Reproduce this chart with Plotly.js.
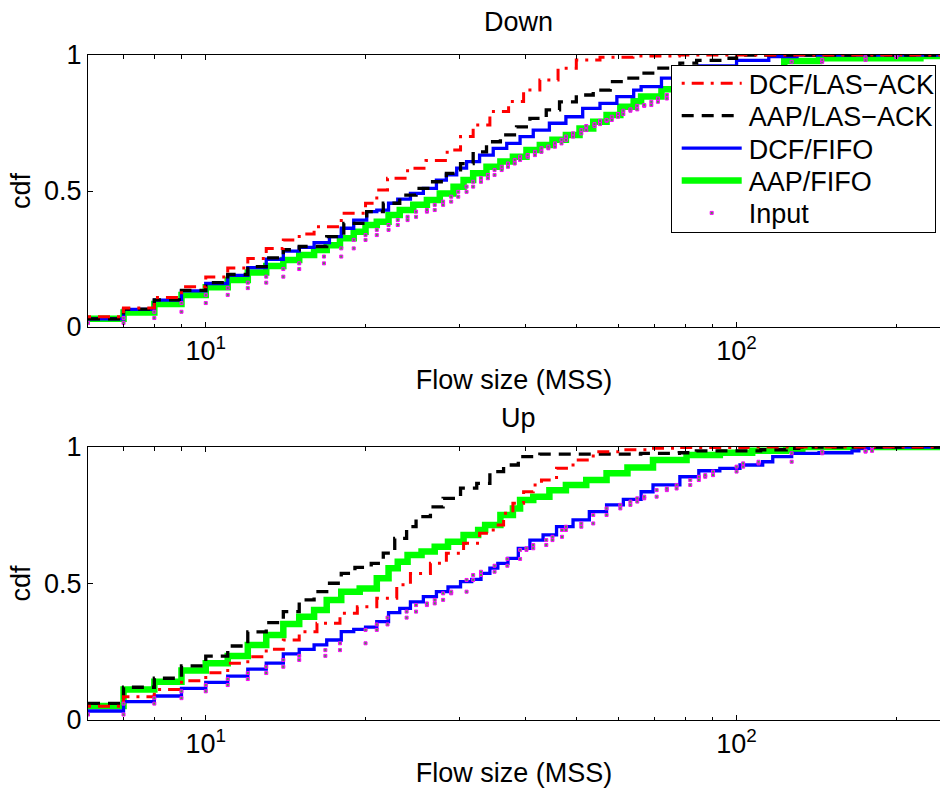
<!DOCTYPE html>
<html><head><meta charset="utf-8">
<script src="https://cdn.plot.ly/plotly-3.0.1.min.js"></script>
<style>html,body{margin:0;padding:0;background:#fff}</style>
</head><body><div id="chart" style="width:940px;height:796px"></div>
<script>
// ---------- Data ----------
var seriesNames = ['DCF/LAS\u2212ACK', 'AAP/LAS\u2212ACK', 'DCF/FIFO', 'AAP/FIFO', 'Input'];
var panelTitles = ['Down', 'Up'];
var xTickVals = [10, 100];
var xTickText = ['10<sup>1</sup>', '10<sup>2</sup>'];
var xMinorVals = [6, 7, 8, 9, 20, 30, 40, 50, 60, 70, 80, 90, 200];
var yTickVals = [0, 0.5, 1];
var yTickText = ['0', '0.5', '1'];

// Down panel
var downDcfLasX = [6,7,8,9,10,11,12,13,14,15,16,18,20,21,22,24,26,28.5,30.2,31.9,34.3,37.2,39.7,42.6,46.1,49.9,55.3,63.8,78,250];
var downDcfLasY = [0.038,0.07,0.108,0.148,0.184,0.217,0.252,0.289,0.32,0.342,0.369,0.418,0.455,0.504,0.547,0.584,0.612,0.651,0.70,0.743,0.792,0.829,0.871,0.908,0.951,0.982,0.992,0.996,1.0,1.0];
var downAapLasX = [6,7,8,9,10,11,12,13,14,15,16.9,18.2,20.1,21.6,23.2,24.9,26.5,28.4,30.2,31.9,33.8,35.9,38.5,40.8,43.8,46.4,49.9,53.7,57.8,61.3,66,70.7,78.2,84.1,93,100,250];
var downAapLasY = [0.03,0.066,0.10,0.135,0.163,0.193,0.222,0.254,0.284,0.296,0.332,0.381,0.424,0.455,0.485,0.51,0.534,0.565,0.601,0.644,0.681,0.706,0.736,0.767,0.798,0.828,0.853,0.871,0.902,0.915,0.933,0.952,0.97,0.98,0.988,1.0,1.0];
var downDcfFifoX = [6,7,8,9,10,11,12,13,14,15,16,17.1,18,19,20.1,21,22.1,23,24.3,25.7,27.2,28.4,29.7,31,32.8,34.8,36.9,39.1,41.4,44.4,47.7,51.3,55.3,59.5,64,66.1,72.2,76.1,85,100,115,130,250];
var downDcfFifoY = [0.03,0.065,0.099,0.133,0.16,0.19,0.218,0.249,0.279,0.293,0.31,0.332,0.363,0.393,0.424,0.43,0.455,0.47,0.491,0.51,0.54,0.559,0.584,0.608,0.632,0.657,0.675,0.70,0.724,0.749,0.773,0.804,0.822,0.847,0.871,0.884,0.915,0.939,0.96,0.98,0.994,1.0,1.0];
var downAapFifoX = [6,7,8,9,10,11,12,13,14,15,16,16.9,17.9,19,20,21,22.1,23.2,24.6,26.1,27.6,29.3,30.6,31.9,33.8,35.9,37.9,40.2,42.6,45,47.7,50.6,53.7,56.9,60.4,64,66.1,72.2,85,100,123,143,222,250];
var downAapFifoY = [0.03,0.053,0.085,0.118,0.146,0.173,0.20,0.224,0.246,0.265,0.283,0.301,0.326,0.35,0.375,0.387,0.412,0.43,0.449,0.467,0.491,0.516,0.54,0.565,0.589,0.608,0.626,0.651,0.669,0.688,0.706,0.73,0.755,0.779,0.81,0.83,0.847,0.874,0.92,0.95,0.978,0.988,0.996,1.0];
var downInputX = [6,7,8,9,10,11,12,13,14,15,16.7,18,19,20,21,22.1,23,24,24.9,26.1,27,28,29,29.9,31,31.9,33,34,35,36.1,37.1,38.2,39.1,40.4,41.7,42.9,44.2,45.5,46.8,47.7,49.2,51,52.1,54,55.3,56.9,58.2,59.8,61.2,63.1,65,67,69.1,71.1,73.9,85,100,127,145,175,200,250];
var downInputY = [0.015,0.033,0.056,0.088,0.118,0.143,0.163,0.185,0.213,0.234,0.259,0.289,0.32,0.338,0.357,0.375,0.393,0.405,0.424,0.43,0.449,0.461,0.479,0.497,0.516,0.534,0.547,0.559,0.577,0.589,0.601,0.614,0.626,0.632,0.644,0.657,0.663,0.675,0.688,0.70,0.712,0.724,0.739,0.746,0.758,0.761,0.773,0.783,0.795,0.80,0.813,0.816,0.828,0.84,0.853,0.90,0.94,0.975,0.982,0.992,1.0,1.0];

// Up panel
var upDcfLasX = [6,7,8,9,10,11,12,13,14,15,16.2,17.9,19.3,21,22.9,24.3,26.5,28.4,30.6,32.8,34.8,36.4,37.9,39.7,41.4,42.9,45.8,49.2,53.7,60.4,68,77,105,250];
var upDcfLasY = [0.05,0.085,0.112,0.144,0.173,0.208,0.232,0.259,0.293,0.323,0.354,0.391,0.415,0.446,0.495,0.537,0.574,0.611,0.647,0.684,0.714,0.757,0.794,0.836,0.861,0.879,0.922,0.952,0.983,0.99,0.995,0.998,1.0,1.0];
var upAapLasX = [6,7,8,9,10,11,12,13,14,15,16,16.9,18,19.1,20.5,21.6,22.7,23.9,24.9,26.5,28,30.2,32.4,34.3,36.4,38.8,42.6,66,78,84,111,124,131,250];
var upAapLasY = [0.061,0.12,0.153,0.198,0.234,0.271,0.323,0.357,0.397,0.44,0.47,0.501,0.537,0.559,0.574,0.611,0.665,0.708,0.745,0.781,0.812,0.849,0.867,0.91,0.934,0.965,0.974,0.977,0.979,0.986,0.99,0.995,1.0,1.0];
var upDcfFifoX = [6,7,8,9,10,11,12,13,14,15,16,16.9,18,19,20,21,22.1,23.2,24.3,25.7,27.2,28.6,30.2,31.7,33,34.3,35.5,37.1,38.8,40.8,43.2,45.8,49.2,52.8,56.9,61.2,66.1,69.6,78.2,84.9,93,101.5,112,117,127,143,165,170,180,250];
var upDcfFifoY = [0.033,0.067,0.088,0.116,0.138,0.161,0.186,0.208,0.242,0.259,0.275,0.293,0.324,0.332,0.34,0.36,0.393,0.409,0.433,0.452,0.47,0.488,0.507,0.515,0.537,0.556,0.574,0.592,0.629,0.659,0.678,0.708,0.733,0.763,0.788,0.808,0.836,0.861,0.891,0.913,0.922,0.934,0.946,0.965,0.977,0.979,0.986,0.995,1.0,1.0];
var upAapFifoX = [6,7,8,9,10,11,12,13,14,15,16,16.9,18,19.5,21,22.1,23,24,25.5,27,28.6,30.6,32.6,33.6,35.9,37.9,39.1,41.4,44.4,47.7,52.1,56.9,62.3,69.6,80.5,93,107,124,133,250];
var upAapFifoY = [0.051,0.112,0.14,0.181,0.208,0.234,0.275,0.311,0.352,0.378,0.403,0.44,0.47,0.482,0.519,0.556,0.58,0.604,0.617,0.635,0.653,0.678,0.696,0.714,0.751,0.775,0.806,0.818,0.842,0.861,0.879,0.904,0.925,0.952,0.971,0.979,0.986,0.991,1.0,1.0];
var upInputX = [6,7,8,9,10,11,12,13,14,15,16.8,17.9,20,21,22,23.9,24.9,26.1,27,28,29,31,31.9,33,35,37,39.1,40.2,41.4,43.8,45,46.9,47.7,51,53.7,56.9,60.4,63.1,65,67,70.7,73.9,77.1,81.8,84.9,87.3,90.3,100,102.9,110,127,145,175,180,250];
var upInputY = [0.02,0.06,0.08,0.105,0.128,0.15,0.172,0.195,0.22,0.235,0.256,0.281,0.33,0.35,0.375,0.397,0.421,0.427,0.44,0.464,0.47,0.513,0.531,0.543,0.565,0.59,0.623,0.629,0.641,0.659,0.671,0.696,0.708,0.72,0.751,0.775,0.788,0.80,0.812,0.818,0.842,0.848,0.861,0.879,0.891,0.897,0.91,0.928,0.94,0.946,0.977,0.983,0.986,1.0,1.0];

// ---------- Styling ----------
var FONT = '"Liberation Sans", Arial, Helvetica, sans-serif';
var FS = 27;
var W = 940, H = 796;
var styles = [
  {color: '#ff0000', width: 3, dash: '3px,7px,12px,7px'},
  {color: '#000000', width: 3.3, dash: '12px,8px'},
  {color: '#0000ff', width: 3.3, dash: 'solid'},
  {color: '#00ff00', width: 6.5, dash: 'solid'}
];

// step-corner points for the marker-only "Input" series
function corners(xs, ys) {
  var cx = [], cy = [];
  for (var i = 0; i < xs.length; i++) {
    if (i > 0) { cx.push(xs[i]); cy.push(ys[i - 1]); }
    cx.push(xs[i]); cy.push(ys[i]);
  }
  return {x: cx, y: cy};
}

function panelTraces(data, xa, ya, showLegend) {
  var tr = [];
  var order = [3, 2, 1, 0];
  order.forEach(function (k) {
    tr.push({
      type: 'scatter', mode: 'lines', name: seriesNames[k],
      x: data[k][0], y: data[k][1], xaxis: xa, yaxis: ya,
      line: {shape: 'hv', color: styles[k].color, width: styles[k].width, dash: styles[k].dash},
      showlegend: showLegend, legendrank: k + 1, hoverinfo: 'skip'
    });
  });
  var c = corners(data[4][0], data[4][1]);
  tr.push({
    type: 'scatter', mode: 'markers', name: seriesNames[4],
    x: c.x, y: c.y, xaxis: xa, yaxis: ya,
    marker: {symbol: 'square', size: 3, color: 'rgb(60,170,60)', line: {color: '#ff00ff', width: 1}},
    showlegend: showLegend, legendrank: 5, hoverinfo: 'skip'
  });
  return tr;
}

var downData = [[downDcfLasX, downDcfLasY], [downAapLasX, downAapLasY], [downDcfFifoX, downDcfFifoY], [downAapFifoX, downAapFifoY], [downInputX, downInputY]];
var upData = [[upDcfLasX, upDcfLasY], [upAapLasX, upAapLasY], [upDcfFifoX, upDcfFifoY], [upAapFifoX, upAapFifoY], [upInputX, upInputY]];

var traces = panelTraces(downData, 'x', 'y', true).concat(panelTraces(upData, 'x2', 'y2', false));

var left = 88;
var xRange = [Math.log10(6), Math.log10(241.7)];
function xAxis(anchor) {
  return {
    type: 'log', domain: [left / W, 1], range: xRange, anchor: anchor,
    tickmode: 'array', tickvals: xTickVals, ticktext: xTickText,
    ticks: 'inside', ticklen: 5, tickwidth: 1, tickcolor: '#000',
    minor: {tickmode: 'array', tickvals: xMinorVals, ticks: 'inside', ticklen: 3.5, tickwidth: 1, tickcolor: '#000', showgrid: false},
    showline: true, linecolor: '#000', linewidth: 1, mirror: 'ticks',
    showgrid: false, zeroline: false,
    tickfont: {family: FONT, size: FS, color: '#000'},
    title: {text: 'Flow size (MSS)', font: {family: FONT, size: FS, color: '#000'}, standoff: 4}
  };
}
function yAxis(anchor, top, bottom) {
  return {
    domain: [1 - bottom / H, 1 - top / H], range: [0, 1], anchor: anchor,
    tickmode: 'array', tickvals: yTickVals, ticktext: yTickText,
    ticks: 'inside', ticklen: 5, tickwidth: 1, tickcolor: '#000',
    showline: true, linecolor: '#000', linewidth: 1,
    showgrid: false, zeroline: false,
    tickfont: {family: FONT, size: FS, color: '#000'},
    title: {text: 'cdf', font: {family: FONT, size: FS, color: '#000'}, standoff: 5}
  };
}

var LEG = {x: 670.7, y: 64.7, w: 264, h: 167, first: 18.6, step: 32.4, lineX0: 11, lineLen: 60, textX: 78, markX: 41};

var layout = {
  width: W, height: H,
  margin: {l: 0, r: 0, t: 0, b: 0, pad: 0},
  paper_bgcolor: '#fff', plot_bgcolor: '#fff',
  font: {family: FONT, size: FS, color: '#000'},
  xaxis: xAxis('y'), yaxis: yAxis('x', 55, 327),
  xaxis2: xAxis('y2'), yaxis2: yAxis('x2', 447, 720),
  showlegend: true,
  legend: {
    x: LEG.x / W, y: 1 - LEG.y / H, xanchor: 'left', yanchor: 'top',
    bgcolor: '#fff', bordercolor: '#000', borderwidth: 1,
    font: {family: FONT, size: FS, color: '#000'},
    itemwidth: 60, traceorder: 'normal', tracegroupgap: 0
  },
  annotations: [
    {text: panelTitles[0], xref: 'paper', yref: 'paper', x: 518 / W, y: 1 - 22 / H, xanchor: 'center', yanchor: 'middle', showarrow: false, font: {family: FONT, size: FS, color: '#000'}},
    {text: panelTitles[1], xref: 'paper', yref: 'paper', x: 518 / W, y: 1 - 418 / H, xanchor: 'center', yanchor: 'middle', showarrow: false, font: {family: FONT, size: FS, color: '#000'}}
  ]
};

Plotly.newPlot('chart', traces, layout, {staticPlot: true, displayModeBar: false}).then(function (gd) {
  // tighten the legend to the MATLAB-like compact layout with long line samples
  var leg = gd.querySelector('.legend');
  if (!leg) return;
  var bg = leg.querySelector('rect.bg');
  if (bg) { bg.setAttribute('width', LEG.w); bg.setAttribute('height', LEG.h); }
  var clip = document.querySelectorAll('clipPath rect');
  var items = leg.querySelectorAll('.traces');
  items.forEach(function (el, i) {
    el.setAttribute('transform', 'translate(0,' + (LEG.first + i * LEG.step) + ')');
    var ln = el.querySelector('path.js-line');
    if (ln) ln.setAttribute('d', 'M' + LEG.lineX0 + ',0h' + LEG.lineLen);
    var tx = el.querySelector('text.legendtext');
    if (tx) {
      tx.setAttribute('x', LEG.textX);
      tx.querySelectorAll('tspan').forEach(function (t) { if (t.hasAttribute('x')) t.setAttribute('x', LEG.textX); });
    }
    var pts = el.querySelectorAll('.legendpoints path');
    pts.forEach(function (p) { p.setAttribute('transform', 'translate(' + LEG.markX + ',0)'); });
  });
  var sb = leg.querySelector('.scrollbox');
  if (sb) sb.removeAttribute('clip-path');
});
</script></body></html>
